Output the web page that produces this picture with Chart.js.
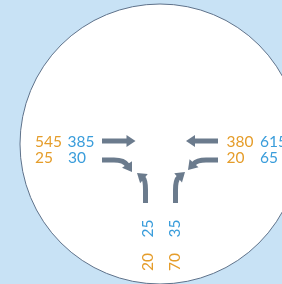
<!DOCTYPE html>
<html>
<head>
<meta charset="utf-8">
<script src="https://cdn.jsdelivr.net/npm/chart.js@4.4.1/dist/chart.umd.min.js"></script>
<style>
  html, body { margin: 0; padding: 0; background: #c8e2f5; }
  #wrap { width: 282px; height: 284px; }
</style>
</head>
<body>
<div id="wrap"><canvas id="chart" width="282" height="284"></canvas></div>
<script>
// turning movement counts, [orange period, blue period]
const approaches = ["West", "East", "South"];
const westThrough = [545, 385];
const westRight = [25, 30];
const eastThrough = [380, 615];
const eastLeft = [20, 65];
const southLeft = [20, 25];
const southRight = [70, 35];

const periodColors = ["#e59d2b", "#3a9ddb"];
const arrowColor = "#6b7b8d";

// layout (diagram units = px on a 282x284 grid)
const ring = { x: 160, y: 144, r: 140 };
const labelRows = [
  { values: westThrough, x: [35, 67.5], y: 146.5 },
  { values: westRight, x: [35, 68], y: 163 },
  { values: eastThrough, x: [226.5, 260], y: 146.5 },
  { values: eastLeft, x: [226.5, 260], y: 163 }
];
const labelCols = [
  { values: southLeft, x: 152.5, y: [262, 228.5] },
  { values: southRight, x: 179.5, y: [262, 228.5] }
];
// arrow: start, end of straight part, curve control, tip
const arrows = [
  { s: [102, 141], m: [126, 141], k: null, t: [135.5, 141] },
  { s: [102, 160], m: [114, 160], k: [124, 160], t: [132, 172] },
  { s: [218, 141], m: [195, 141], k: null, t: [186, 141] },
  { s: [218, 160], m: [206, 160], k: [197, 160], t: [188, 170] },
  { s: [145.5, 203], m: [145.5, 190], k: [145.5, 180], t: [137, 173] },
  { s: [175.5, 203], m: [175.5, 190], k: [175.5, 180], t: [185, 172] }
];

const diagramPlugin = {
  id: "diagram",
  afterDatasetsDraw(chart) {
    const ctx = chart.ctx;
    const sx = chart.scales.x, sy = chart.scales.y;
    const px = (p) => [sx.getPixelForValue(p[0]), sy.getPixelForValue(p[1])];

    // arrows
    ctx.save();
    ctx.strokeStyle = arrowColor;
    ctx.fillStyle = arrowColor;
    ctx.lineWidth = 5;
    ctx.lineCap = "butt";
    arrows.forEach((a) => {
      const s = px(a.s), m = px(a.m), t = px(a.t);
      const from = a.k ? px(a.k) : m;
      let dx = t[0] - from[0], dy = t[1] - from[1];
      const len = Math.hypot(dx, dy);
      dx /= len; dy /= len;
      const headLen = 9, headHalf = 6;
      const b = [t[0] - dx * headLen, t[1] - dy * headLen];
      ctx.beginPath();
      ctx.moveTo(s[0], s[1]);
      if (a.k) {
        const k = px(a.k);
        ctx.lineTo(m[0], m[1]);
        ctx.quadraticCurveTo(k[0], k[1], b[0] + dx, b[1] + dy);
      } else {
        ctx.lineTo(b[0] + dx, b[1] + dy);
      }
      ctx.stroke();
      ctx.beginPath();
      ctx.moveTo(t[0], t[1]);
      ctx.lineTo(b[0] - dy * headHalf, b[1] + dx * headHalf);
      ctx.lineTo(b[0] + dy * headHalf, b[1] - dx * headHalf);
      ctx.closePath();
      ctx.fill();
    });
    ctx.restore();

    // counts
    ctx.save();
    ctx.font = "15.5px Lato";
    ctx.textBaseline = "alphabetic";
    labelRows.forEach((row) => {
      row.values.forEach((v, i) => {
        const p = px([row.x[i], row.y]);
        ctx.fillStyle = periodColors[i];
        ctx.textAlign = "left";
        ctx.fillText(String(v), p[0], p[1]);
      });
    });
    labelCols.forEach((col) => {
      col.values.forEach((v, i) => {
        const p = px([col.x, col.y[i]]);
        ctx.save();
        ctx.translate(p[0], p[1]);
        ctx.rotate(-Math.PI / 2);
        ctx.fillStyle = periodColors[i];
        ctx.textAlign = "center";
        ctx.fillText(String(v), 0, 0);
        ctx.restore();
      });
    });
    ctx.restore();
  }
};

new Chart(document.getElementById("chart"), {
  type: "scatter",
  data: {
    datasets: [
      {
        label: "intersection",
        data: [{ x: ring.x, y: ring.y }],
        pointRadius: ring.r,
        pointHoverRadius: ring.r,
        backgroundColor: "#ffffff",
        borderColor: "#5f728a",
        borderWidth: 1,
        clip: false
      }
    ]
  },
  options: {
    responsive: false,
    animation: false,
    events: [],
    layout: { padding: 0, autoPadding: false },
    plugins: { legend: { display: false }, tooltip: { enabled: false } },
    scales: {
      x: { type: "linear", min: 0, max: 282, display: false },
      y: { type: "linear", min: 0, max: 284, reverse: true, display: false }
    }
  },
  plugins: [diagramPlugin]
});
</script>
</body>
</html>
